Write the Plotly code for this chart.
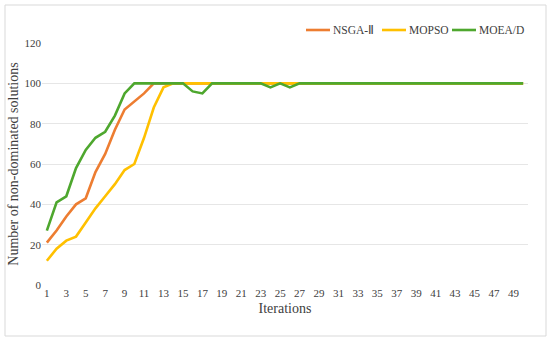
import plotly.graph_objects as go

iterations = list(range(1, 51))
nsga2 = [21, 27, 34, 40, 43, 56, 65, 77, 87, 91, 95, 100] + [100] * 38
mopso = [12, 18, 22, 24, 31, 38, 44, 50, 57, 60, 73, 88, 98, 100] + [100] * 36
moead = [27, 41, 44, 58, 67, 73, 76, 84, 95, 100, 100, 100, 100, 100, 100, 96, 95,
         100, 100, 100, 100, 100, 100, 98, 100, 98] + [100] * 24
x_ticks = list(range(1, 50, 2))
y_ticks = [0, 20, 40, 60, 80, 100, 120]

series = [("NSGA-Ⅱ", nsga2, "#ED7D31"), ("MOPSO", mopso, "#FFC000"), ("MOEA/D", moead, "#4EA72E")]

FONT = "Liberation Serif"
TXT = "#404040"

W, H = 550, 344
L, R, T, B = 42, 22, 43, 59
PW, PH = W - L - R, H - T - B


def px_x(p):
    return (p - L) / PW


def px_y(p):
    return (H - B - p) / PH


fig = go.Figure()
for name, vals, col in series:
    fig.add_trace(go.Scatter(x=iterations, y=vals, mode="lines", name=name,
                             line=dict(color=col, width=2.6), showlegend=False))

# legend drawn as line swatches + text (positions in pixels)
legend_starts = [306, 382, 452]
shapes = [dict(type="rect", xref="paper", yref="paper",
               x0=px_x(5), x1=px_x(546), y0=px_y(336), y1=px_y(5),
               line=dict(color="#D9D9D9", width=1), fillcolor="rgba(0,0,0,0)", layer="below")]
annotations = []
ly = px_y(30)
for (name, _, col), sx in zip(series, legend_starts):
    shapes.append(dict(type="line", xref="paper", yref="paper",
                       x0=px_x(sx), x1=px_x(sx + 24), y0=ly, y1=ly,
                       line=dict(color=col, width=2.6)))
    annotations.append(dict(text=name, xref="paper", yref="paper", x=px_x(sx + 25), y=ly,
                            xanchor="left", yanchor="middle", showarrow=False,
                            font=dict(family=FONT, size=11.5, color=TXT)))

fig.update_layout(
    width=W, height=H,
    margin=dict(l=L, r=R, t=T, b=B, autoexpand=False),
    paper_bgcolor="white", plot_bgcolor="white",
    font=dict(family=FONT, color=TXT, size=11),
    showlegend=False,
    xaxis=dict(range=[0.5, 50.5], tickmode="array", tickvals=x_ticks,
               ticktext=[str(v) for v in x_ticks], showgrid=False, zeroline=False,
               showline=False, ticks="", tickfont=dict(size=11, color=TXT),
               title=dict(text="Iterations", font=dict(size=14, color=TXT), standoff=5)),
    yaxis=dict(range=[0, 120], tickmode="array", tickvals=y_ticks, showgrid=True,
               gridcolor="#E6E6E6", gridwidth=1, zeroline=False, showline=False, ticks="",
               tickfont=dict(size=11, color=TXT),
               title=dict(text="Number of non-dominated solutions",
                          font=dict(size=14, color=TXT), standoff=2)),
    shapes=shapes,
    annotations=annotations,
)

fig.write_html("out.html", post_script="document.body.style.margin='0';",
               config={"displayModeBar": False})
